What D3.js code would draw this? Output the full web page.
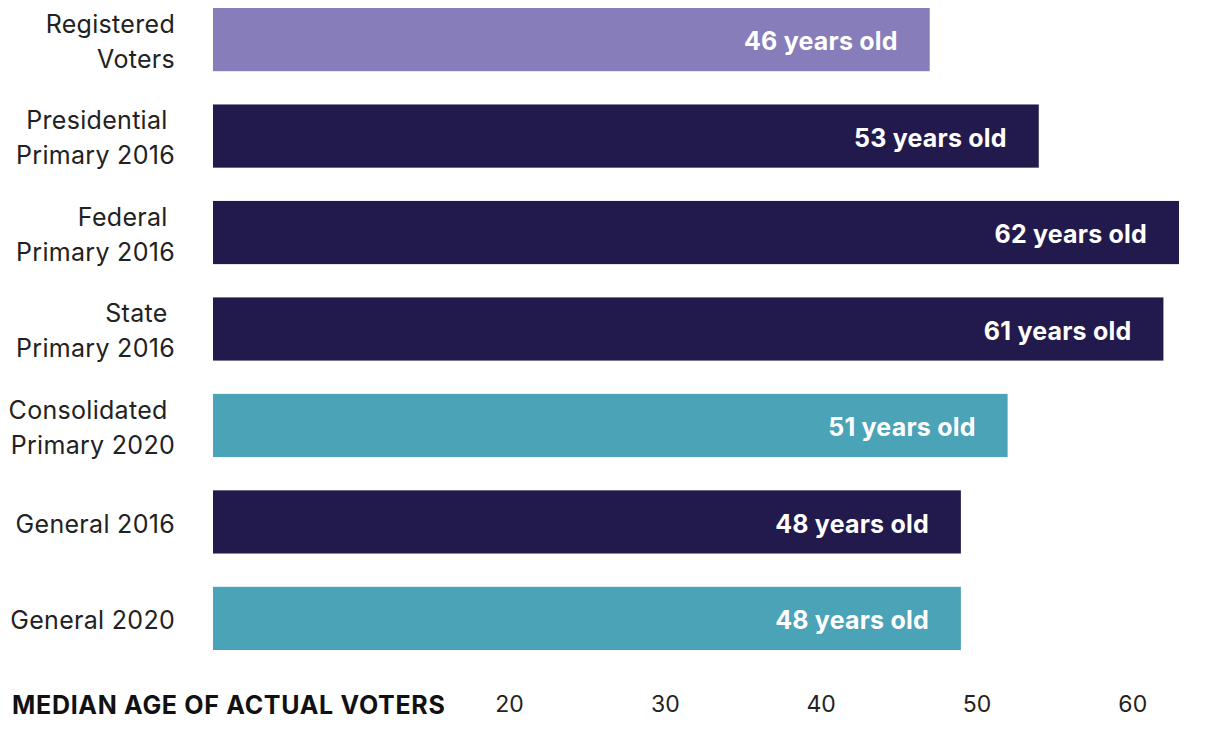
<!DOCTYPE html>
<html><head><meta charset="utf-8">
<script src="https://cdn.jsdelivr.net/npm/d3@7"></script>
<style>
body{margin:0;background:#fff;}
text{font-family:Inter,"Noto Sans",sans-serif;}
text.cat{white-space:pre;}
</style></head>
<body><svg id="chart" width="1219" height="729"></svg>
<script>
const categories = [["Registered","Voters"],["Presidential ","Primary 2016"],["Federal ","Primary 2016"],["State ","Primary 2016"],["Consolidated ","Primary 2020"],["General 2016"],["General 2020"]];
const barValues = [47, 54, 63, 62, 52, 49, 49];
const labelAges = [46, 53, 62, 61, 51, 48, 48];
const groups = ["registered","cook2016","cook2016","cook2016","cook2020","cook2016","cook2020"];
const tickValues = [20, 30, 40, 50, 60];
const axisTitle = "MEDIAN AGE OF ACTUAL VOTERS";

const color = d3.scaleOrdinal().domain(["registered","cook2016","cook2020"]).range(["#877dba","#221a4c","#4ba3b8"]);
const svg = d3.select("#chart");
const x = d3.scaleLinear().domain([1, 63]).range([213, 1179]);
const y = d3.scaleBand().domain(d3.range(categories.length)).range([8, 650]).paddingInner(0.345).paddingOuter(0);

const data = categories.map((c,i)=>({c, v: barValues[i], a: labelAges[i], g: groups[i], i}));

svg.selectAll("rect.bar").data(data).join("rect").attr("class","bar")
  .attr("x", x(1)).attr("y", d=>y(d.i)).attr("width", d=>x(d.v)-x(1)).attr("height", y.bandwidth())
  .attr("fill", d=>color(d.g));

svg.selectAll("text.val").data(data).join("text").attr("class","val")
  .attr("x", d=>x(d.v)-32).attr("y", d=>y(d.i)+y.bandwidth()/2+2).attr("dy","0.35em")
  .attr("text-anchor","end").attr("fill","#fff").attr("font-weight",700).attr("font-size",25)
  .attr("letter-spacing","0.2px")
  .text(d=>d.a + " years old");

const lab = svg.selectAll("text.cat").data(data).join("text").attr("class","cat")
  .attr("text-anchor","end").attr("fill","#222").attr("font-size",25).attr("letter-spacing","0.3px");
lab.each(function(d){
  const t = d3.select(this);
  const n = d.c.length;
  d.c.forEach((line,k)=>{
    t.append("tspan").attr("x",175)
      .attr("y", y(d.i)+y.bandwidth()/2 + 2 + (k-(n-1)/2)*35)
      .attr("dy","0.35em").text(line);
  });
});

const axis = d3.axisBottom(x).tickValues(tickValues).tickFormat(d3.format("d")).tickSize(0).tickPadding(0);
const ag = svg.append("g").attr("transform","translate(0,696)").call(axis);
ag.select(".domain").remove();
ag.selectAll("text").attr("font-size",23).attr("fill","#222").attr("font-family","Inter,sans-serif");

svg.append("text").attr("x",12).attr("y",705).attr("dy","0.35em")
  .attr("font-weight",700).attr("font-size",25).attr("fill","#111").attr("letter-spacing","0.7px")
  .text(axisTitle);
</script></body></html>
